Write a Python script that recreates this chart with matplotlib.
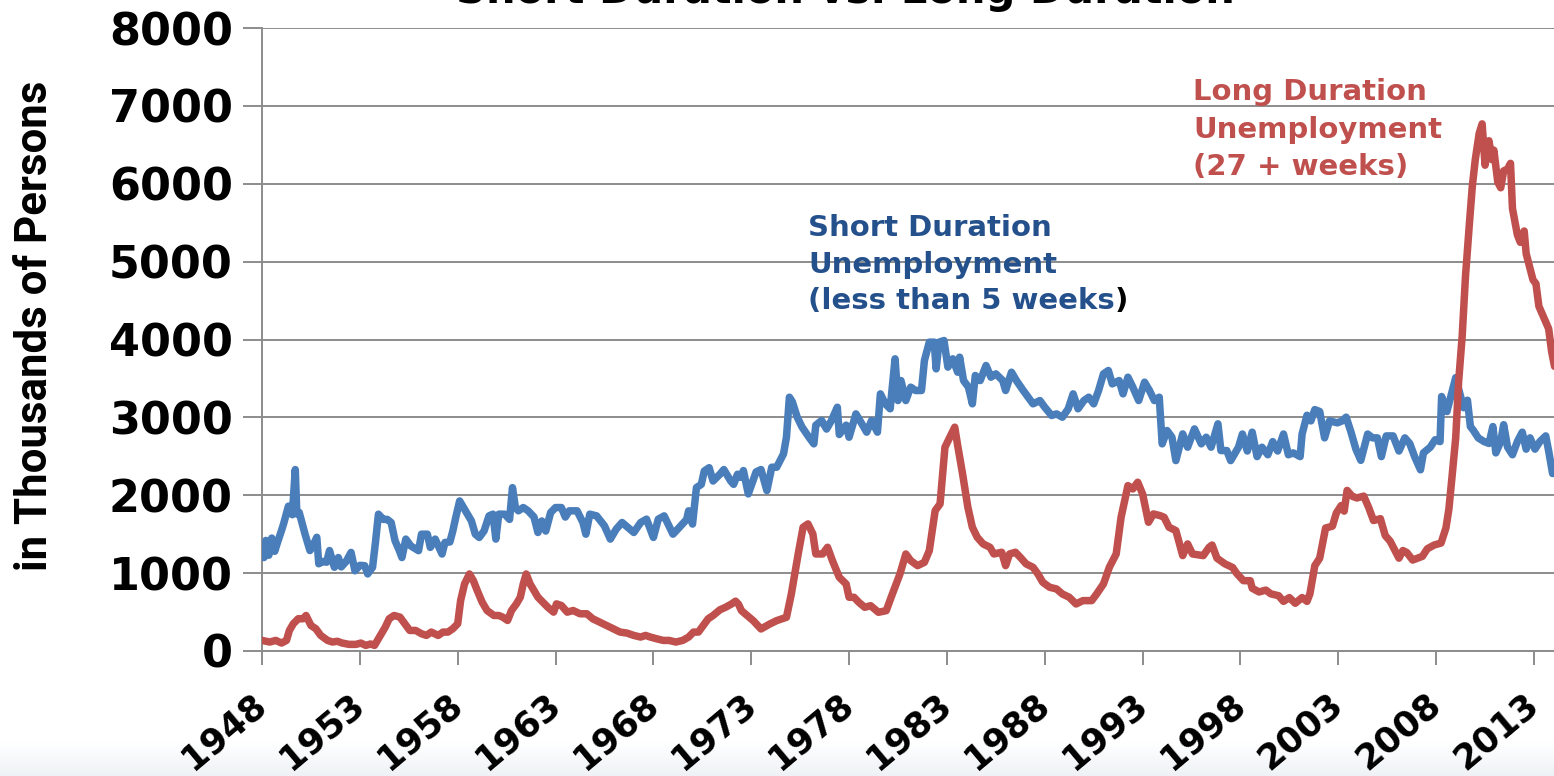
import matplotlib
matplotlib.use("Agg")
import matplotlib.pyplot as plt
import numpy as np

# ---------------- data (thousands of persons) ----------------
short_years = [
    1948.0, 1948.1, 1948.2, 1948.35, 1948.5, 1948.65, 1948.8, 1949.0, 1949.1, 1949.35,
    1949.55, 1949.7, 1949.78, 1949.9, 1950.2, 1950.45, 1950.6, 1950.8, 1950.9, 1951.1,
    1951.3, 1951.45, 1951.7, 1951.9, 1952.05, 1952.3, 1952.55, 1952.75, 1953.0, 1953.25,
    1953.4, 1953.65, 1953.8, 1953.95, 1954.2, 1954.4, 1954.6, 1954.8, 1955.0, 1955.15,
    1955.35, 1955.6, 1956.0, 1956.15, 1956.45, 1956.6, 1956.85, 1957.2, 1957.35, 1957.6,
    1957.75, 1957.9, 1958.1, 1958.4, 1958.7, 1958.9, 1959.1, 1959.35, 1959.6, 1959.8,
    1959.95, 1960.1, 1960.4, 1960.65, 1960.8, 1960.95, 1961.1, 1961.35, 1961.6, 1961.9,
    1962.1, 1962.3, 1962.5, 1962.75, 1963.0, 1963.3, 1963.5, 1963.7, 1964.1, 1964.4,
    1964.55, 1964.75, 1965.1, 1965.5, 1965.8, 1966.1, 1966.4, 1966.8, 1967.0, 1967.35,
    1967.65, 1968.0, 1968.25, 1968.55, 1969.0, 1969.3, 1969.7, 1969.8, 1970.0, 1970.2,
    1970.45, 1970.6, 1970.85, 1971.05, 1971.4, 1971.6, 1971.95, 1972.1, 1972.3, 1972.45,
    1972.6, 1972.85, 1973.25, 1973.5, 1973.8, 1974.05, 1974.3, 1974.65, 1974.8, 1974.95,
    1975.1, 1975.35, 1975.6, 1975.95, 1976.2, 1976.3, 1976.6, 1976.85, 1977.1, 1977.4,
    1977.5, 1977.85, 1978.0, 1978.35, 1978.6, 1978.9, 1979.15, 1979.45, 1979.6, 1979.85,
    1980.1, 1980.35, 1980.5, 1980.65, 1980.9, 1981.15, 1981.4, 1981.7, 1981.85, 1982.1,
    1982.35, 1982.45, 1982.6, 1982.85, 1983.05, 1983.3, 1983.55, 1983.65, 1983.85, 1984.1,
    1984.3, 1984.45, 1984.7, 1985.0, 1985.25, 1985.5, 1985.85, 1986.0, 1986.3, 1986.55,
    1986.9, 1987.15, 1987.4, 1987.75, 1988.0, 1988.35, 1988.6, 1988.9, 1989.2, 1989.45,
    1989.7, 1990.0, 1990.25, 1990.5, 1990.75, 1991.0, 1991.25, 1991.45, 1991.8, 1992.0,
    1992.25, 1992.5, 1992.8, 1993.1, 1993.35, 1993.6, 1993.85, 1994.0, 1994.25, 1994.5,
    1994.7, 1995.05, 1995.3, 1995.65, 1996.0, 1996.25, 1996.5, 1996.85, 1997.0, 1997.3,
    1997.5, 1997.9, 1998.1, 1998.35, 1998.6, 1998.85, 1999.1, 1999.4, 1999.65, 1999.9,
    2000.2, 2000.45, 2000.7, 2001.05, 2001.15, 2001.4, 2001.6, 2001.8, 2002.05, 2002.3,
    2002.55, 2002.95, 2003.2, 2003.4, 2003.65, 2003.9, 2004.15, 2004.5, 2004.75, 2005.0,
    2005.2, 2005.45, 2005.8, 2006.1, 2006.4, 2006.65, 2006.9, 2007.2, 2007.35, 2007.7,
    2007.95, 2008.2, 2008.28, 2008.55, 2008.8, 2009.0, 2009.25, 2009.4, 2009.6, 2009.75,
    2009.9, 2010.15, 2010.45, 2010.7, 2010.9, 2011.05, 2011.3, 2011.45, 2011.65, 2011.9,
    2012.15, 2012.4, 2012.6, 2012.8, 2013.05, 2013.3, 2013.6, 2013.75, 2013.95, 2014.05,
]
short_values = [
    1290, 1200, 1420, 1230, 1450, 1280, 1400, 1550, 1630, 1860,
    1750, 2330, 1760, 1780, 1500, 1290, 1350, 1460, 1120, 1150,
    1140, 1290, 1075, 1200, 1080, 1150, 1266, 1030, 1100, 1095,
    990, 1075, 1400, 1757, 1690, 1690, 1650, 1415, 1300, 1200,
    1437, 1350, 1288, 1500, 1500, 1330, 1437, 1245, 1394, 1400,
    1540, 1714, 1927, 1800, 1671, 1500, 1458, 1543, 1735, 1757,
    1437, 1757, 1757, 1690, 2098, 1842, 1800, 1842, 1800, 1720,
    1522, 1670, 1540, 1778, 1842, 1842, 1720, 1800, 1800, 1650,
    1500, 1757, 1735, 1607, 1437, 1565, 1650, 1565, 1522, 1650,
    1693, 1458, 1693, 1735, 1500, 1580, 1690, 1800, 1630, 2098,
    2140, 2311, 2354, 2183, 2270, 2330, 2183, 2140, 2270, 2230,
    2317, 2017, 2300, 2330, 2060, 2360, 2360, 2531, 2745, 3259,
    3200, 3002, 2874, 2745, 2660, 2900, 2960, 2850, 2960, 3130,
    2780, 2900, 2745, 3045, 2940, 2810, 2960, 2810, 3302, 3174,
    3110, 3752, 3216, 3473, 3216, 3388, 3345, 3345, 3730, 3966,
    3966, 3623, 3966, 3987, 3645, 3752, 3580, 3773, 3473, 3388,
    3174, 3538, 3473, 3666, 3516, 3559, 3473, 3345, 3580, 3473,
    3345, 3259, 3174, 3216, 3130, 3024, 3045, 3002, 3110, 3302,
    3110, 3216, 3259, 3174, 3345, 3559, 3602, 3430, 3473, 3302,
    3516, 3388, 3216, 3452, 3345, 3216, 3259, 2660, 2831, 2745,
    2445, 2788, 2617, 2852, 2660, 2745, 2617, 2917, 2574, 2574,
    2445, 2617, 2786, 2568, 2810, 2496, 2617, 2520, 2689, 2568,
    2786, 2520, 2544, 2496, 2786, 3027, 2955, 3100, 3075, 2737,
    2955, 2930, 2955, 3003, 2810, 2592, 2448, 2786, 2737, 2737,
    2496, 2762, 2762, 2568, 2737, 2665, 2496, 2327, 2544, 2617,
    2713, 2689, 3268, 3075, 3317, 3510, 3268, 3124, 3220, 2882,
    2834, 2737, 2689, 2665, 2882, 2544, 2689, 2906, 2617, 2520,
    2689, 2810, 2592, 2737, 2592, 2689, 2762, 2568, 2279, 2300,
]

long_years = [
    1948.0, 1948.4, 1948.7, 1949.0, 1949.25, 1949.4, 1949.6, 1949.85, 1950.1, 1950.25,
    1950.5, 1950.75, 1951.0, 1951.35, 1951.6, 1951.85, 1952.1, 1952.45, 1952.8, 1953.05,
    1953.3, 1953.55, 1953.75, 1954.0, 1954.3, 1954.5, 1954.75, 1955.05, 1955.3, 1955.55,
    1955.85, 1956.15, 1956.4, 1956.65, 1957.0, 1957.25, 1957.5, 1957.75, 1958.0, 1958.15,
    1958.35, 1958.6, 1958.8, 1959.0, 1959.25, 1959.5, 1959.85, 1960.1, 1960.3, 1960.55,
    1960.75, 1961.0, 1961.2, 1961.35, 1961.5, 1961.7, 1961.9, 1962.1, 1962.35, 1962.6,
    1962.9, 1963.05, 1963.3, 1963.6, 1963.9, 1964.25, 1964.6, 1964.9, 1965.25, 1965.6,
    1965.95, 1966.3, 1966.65, 1967.0, 1967.35, 1967.6, 1967.85, 1968.15, 1968.5, 1968.8,
    1969.15, 1969.5, 1969.8, 1970.05, 1970.3, 1970.55, 1970.8, 1971.05, 1971.4, 1971.7,
    1972.0, 1972.2, 1972.35, 1972.5, 1973.1, 1973.5, 1973.95, 1974.3, 1974.8, 1975.05,
    1975.4, 1975.65, 1975.9, 1976.15, 1976.3, 1976.65, 1976.9, 1977.15, 1977.5, 1977.85,
    1978.0, 1978.25, 1978.5, 1978.8, 1979.1, 1979.5, 1979.9, 1980.15, 1980.6, 1980.9,
    1981.15, 1981.5, 1981.85, 1982.1, 1982.4, 1982.65, 1982.9, 1983.15, 1983.4, 1983.55,
    1983.8, 1984.07, 1984.3, 1984.55, 1984.85, 1985.2, 1985.4, 1985.8, 1986.0, 1986.2,
    1986.5, 1986.75, 1987.05, 1987.4, 1987.65, 1987.9, 1988.25, 1988.6, 1988.9, 1989.25,
    1989.6, 1989.95, 1990.4, 1990.65, 1991.0, 1991.3, 1991.65, 1991.9, 1992.25, 1992.5,
    1992.75, 1993.0, 1993.3, 1993.55, 1993.9, 1994.1, 1994.35, 1994.7, 1995.05, 1995.3,
    1995.55, 1996.1, 1996.4, 1996.55, 1996.8, 1997.2, 1997.6, 1997.8, 1998.15, 1998.5,
    1998.6, 1998.95, 1999.3, 1999.55, 1999.95, 2000.2, 2000.5, 2000.8, 2001.15, 2001.4,
    2001.55, 2001.8, 2002.05, 2002.35, 2002.7, 2002.9, 2003.15, 2003.3, 2003.45, 2003.7,
    2003.95, 2004.3, 2004.55, 2004.8, 2005.15, 2005.4, 2005.65, 2005.8, 2006.1, 2006.3,
    2006.5, 2006.8, 2007.05, 2007.3, 2007.55, 2007.9, 2008.25, 2008.5, 2008.65, 2008.8,
    2009.0, 2009.15, 2009.33, 2009.5, 2009.7, 2009.85, 2010.0, 2010.2, 2010.35, 2010.5,
    2010.7, 2010.85, 2010.95, 2011.15, 2011.3, 2011.45, 2011.65, 2011.8, 2011.9, 2012.15,
    2012.3, 2012.5, 2012.6, 2012.8, 2012.95, 2013.1, 2013.25, 2013.5, 2013.75, 2013.9,
    2014.05,
]
long_values = [
    136, 115, 136, 102, 136, 264, 350, 414, 414, 456,
    328, 286, 200, 136, 115, 125, 102, 85, 85, 102,
    72, 90, 72, 179, 307, 414, 456, 435, 350, 264,
    264, 222, 200, 243, 200, 243, 243, 286, 350, 648,
    861, 989, 904, 776, 627, 520, 456, 456, 435, 392,
    520, 605, 691, 861, 989, 861, 776, 691, 627, 563,
    499, 605, 584, 499, 520, 478, 478, 414, 371, 328,
    286, 243, 230, 200, 179, 200, 179, 158, 136, 136,
    115, 136, 179, 243, 243, 328, 414, 456, 529, 563,
    605, 640, 600, 518, 390, 283, 347, 390, 433, 732,
    1246, 1589, 1632, 1503, 1246, 1246, 1332, 1160, 946, 860,
    690, 690, 625, 561, 582, 497, 518, 690, 989, 1246,
    1160, 1096, 1139, 1289, 1803, 1889, 2617, 2745, 2874, 2638,
    2274, 1846, 1589, 1460, 1375, 1332, 1246, 1268, 1096, 1246,
    1268, 1203, 1118, 1075, 989, 882, 818, 797, 732, 690,
    604, 647, 647, 732, 861, 1075, 1246, 1717, 2124, 2081,
    2167, 2017, 1653, 1760, 1738, 1717, 1589, 1546, 1225, 1375,
    1246, 1225, 1332, 1361, 1192, 1120, 1072, 999, 903, 903,
    806, 758, 782, 734, 710, 637, 686, 613, 686, 637,
    734, 1096, 1192, 1579, 1603, 1772, 1868, 1796, 2062, 1989,
    1965, 1989, 1844, 1675, 1699, 1482, 1410, 1337, 1192, 1290,
    1265, 1168, 1192, 1216, 1313, 1361, 1386, 1579, 1820, 2206,
    2737, 3462, 4041, 4813, 5490, 5972, 6310, 6648, 6769, 6238,
    6552, 6310, 6431, 6020, 5948, 6165, 6189, 6262, 5683, 5345,
    5248, 5393, 5103, 4910, 4765, 4717, 4427, 4282, 4138, 3848,
    3655,
]

x_ticks = [1948, 1953, 1958, 1963, 1968, 1973, 1978, 1983, 1988, 1993, 1998, 2003, 2008, 2013]
x_tick_labels = [str(t) for t in x_ticks]
y_ticks = [0, 1000, 2000, 3000, 4000, 5000, 6000, 7000, 8000]
y_tick_labels = [str(t) for t in y_ticks]

title_text = "Short Duration vs. Long Duration"
y_label = "in Thousands of Persons"
short_note = ["Short Duration", "Unemployment", "(less than 5 weeks"]
long_note = ["Long Duration", "Unemployment", "(27 + weeks)"]

# ---------------- style ----------------
BLUE_LINE = "#4A7EBB"
RED_LINE = "#C0504D"
BLUE_TEXT = "#24508C"
RED_TEXT = "#C0504D"
GRID = "#8C8C8C"

W, H = 1554, 776
fig = plt.figure(figsize=(W / 100, H / 100), dpi=100)
fig.patch.set_facecolor("white")

def fx(px):
    return px / W

def fy(py):
    return 1 - py / H

# faint gradient at the bottom
bg = fig.add_axes([0, 0, 1, fy(742)], zorder=-5)
grad = np.linspace(0, 1, 64).reshape(-1, 1)
bg.imshow(grad, aspect="auto", cmap=matplotlib.colors.LinearSegmentedColormap.from_list(
    "g", ["#EEF2F6", "#FFFFFF"]), extent=[0, 1, 0, 1], origin="lower")
bg.axis("off")

ax_left, ax_right, ax_top, ax_bot = 262, 1554, 28, 651
ax = fig.add_axes([fx(ax_left), fy(ax_bot), fx(ax_right - ax_left), (ax_bot - ax_top) / H])
ax.patch.set_alpha(0)

ax.plot(short_years, short_values, color=BLUE_LINE, lw=5.4, solid_joinstyle="round",
        solid_capstyle="round", zorder=3)
ax.plot(long_years, long_values, color=RED_LINE, lw=5.4, solid_joinstyle="round",
        solid_capstyle="round", zorder=4)

ax.set_xlim(1948, 1948 + (ax_right - ax_left) / 19.569)
ax.set_ylim(0, 8000)

for s in ["top", "right"]:
    ax.spines[s].set_visible(False)
for s in ["left", "bottom"]:
    ax.spines[s].set_color(GRID)
    ax.spines[s].set_linewidth(1.4)

ax.set_yticks(y_ticks)
ax.set_yticklabels(y_tick_labels)
ax.set_xticks(x_ticks)
ax.set_xticklabels(x_tick_labels)
ax.yaxis.grid(True, color=GRID, lw=1.4, zorder=0)
ax.set_axisbelow(True)

ax.tick_params(axis="y", length=14, width=1.4, color=GRID, pad=7,
               labelsize=32, direction="out")
ax.tick_params(axis="x", length=10, width=1.4, color=GRID, pad=25,
               labelsize=25.5, direction="out")
for lab in ax.get_yticklabels():
    lab.set_fontweight("bold")
    lab.set_family("DejaVu Sans")
for lab in ax.get_xticklabels():
    lab.set_fontweight("bold")
    lab.set_family("DejaVu Sans")
    lab.set_rotation(40)
    lab.set_rotation_mode("anchor")
    lab.set_ha("right")
    lab.set_va("center")

fig.text(fx(35), fy(326), y_label, rotation=90, ha="center", va="center",
         fontsize=31.5, fontweight="bold", family=["Roboto", "DejaVu Sans"])

fig.text(fx(845), fy(3), title_text, ha="center", va="baseline",
         fontsize=30, fontweight="bold", family="DejaVu Sans", color="black")

# annotations
short_baselines = [236, 273, 309]
for txt, b in zip(short_note, short_baselines):
    t = fig.text(fx(808), fy(b), txt, ha="left", va="baseline", fontsize=21,
                 fontweight="bold", family="DejaVu Sans", color=BLUE_TEXT)
last_short = t

long_baselines = [100, 138, 175]
for txt, b in zip(long_note, long_baselines):
    fig.text(fx(1193), fy(b), txt, ha="left", va="baseline", fontsize=21,
             fontweight="bold", family="DejaVu Sans", color=RED_TEXT)

fig.canvas.draw()
bb = last_short.get_window_extent(renderer=fig.canvas.get_renderer())
fig.text(bb.x1 / W, fy(short_baselines[-1]), ")", ha="left", va="baseline",
         fontsize=21, fontweight="bold", family="DejaVu Sans", color="black")

fig.savefig("out.png", dpi=100)
